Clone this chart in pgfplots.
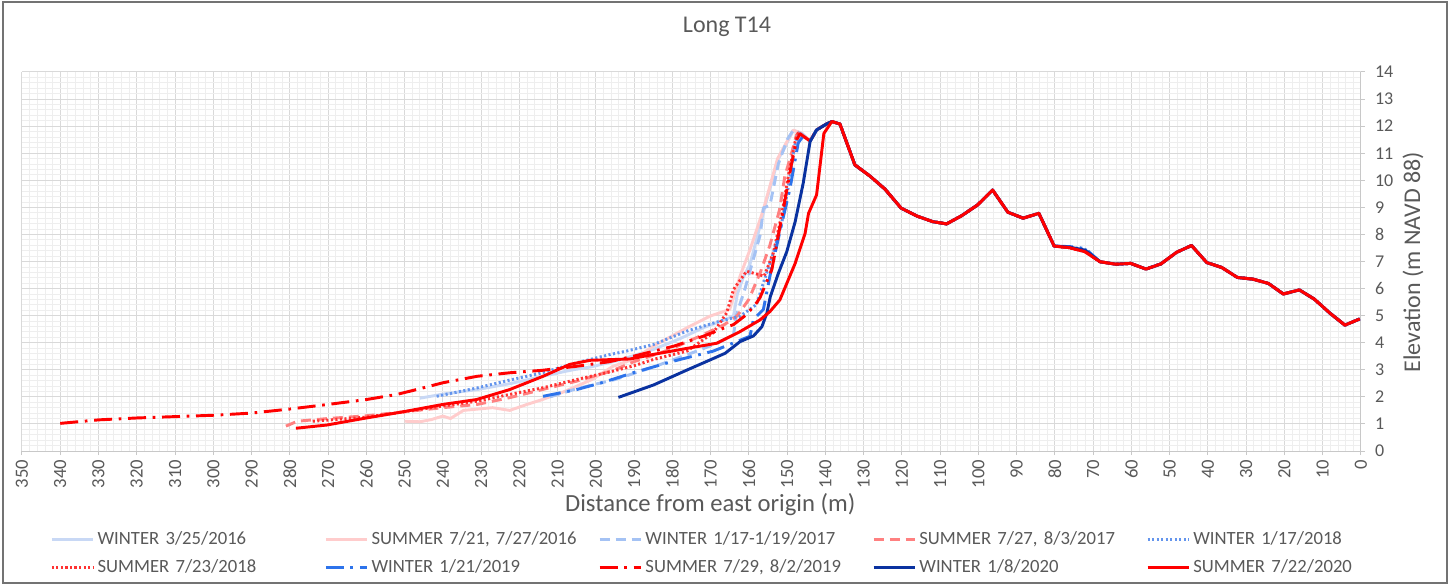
\documentclass[border=0pt]{standalone}
\usepackage{fontspec}
\setmainfont{Carlito}
\usepackage{pgfplots}
\pgfplotsset{compat=1.18}
\definecolor{txt}{RGB}{89,89,89}
\definecolor{majg}{RGB}{217,217,217}
\definecolor{ming}{RGB}{238,238,238}
\definecolor{axg}{RGB}{200,200,200}
\definecolor{ca}{RGB}{200,216,245}
\definecolor{cb}{RGB}{255,204,204}
\definecolor{cc}{RGB}{164,194,244}
\definecolor{cd}{RGB}{255,128,128}
\definecolor{ce}{RGB}{100,149,237}
\definecolor{cf}{RGB}{255,50,50}
\definecolor{cg}{RGB}{45,115,235}
\definecolor{ch}{RGB}{255,0,0}
\definecolor{ci}{RGB}{10,50,160}
\definecolor{cj}{RGB}{255,0,0}
\begin{document}
\begin{tikzpicture}
\useasboundingbox (-16.5pt,-100.5pt) rectangle (1073.25pt,338.25pt);
\draw[black!55, line width=0.8pt] (-14.25pt,-99pt) rectangle (1068.75pt,336.75pt);
\begin{axis}[
  at={(0pt,0pt)}, anchor=south west,
  scale only axis, width=1004.25pt, height=284.25pt,
  x dir=reverse, xmin=0, xmax=350, ymin=0, ymax=14,
  xtick={0,10,...,350}, ytick={0,1,...,14},
  minor x tick num=4, minor y tick num=4,
  grid=both,
  major grid style={draw=majg, line width=0.75pt},
  minor grid style={draw=ming, line width=0.6pt},
  axis x line*=bottom, axis y line*=right,
  axis line style={draw=axg, line width=0.75pt, -},
  tick align=outside, major tick length=3pt, minor tick length=0pt,
  tick style={draw=axg, line width=0.75pt},
  /pgf/number format/assume math mode=true,
  xticklabel style={rotate=90, anchor=east, font=\fontsize{14}{16}\selectfont, text=txt},
  yticklabel style={anchor=west, font=\fontsize{13.5}{15}\selectfont, text=txt, xshift=4pt},
  title={Long T14},
  title style={at={(axis description cs:0.5265,1.0976)}, anchor=center, font=\fontsize{18}{20}\selectfont, text=txt},
  xlabel={Distance from east origin (m)},
  xlabel style={at={(axis description cs:0.514,-0.1425)}, anchor=center, font=\fontsize{18.5}{20}\selectfont, text=txt},
  ylabel={Elevation (m NAVD 88)},
  ylabel style={at={(axis description cs:1.0389,0.4987)}, anchor=center, font=\fontsize{18}{20}\selectfont, text=txt},
  legend columns=5,
  legend style={at={(axis description cs:0.018,-0.2005)}, anchor=north west, draw=none, fill=none,
    font=\fontsize{14}{16}\selectfont, text=txt,
    nodes={inner sep=0pt, text width=170pt, align=left, text height=11pt, text depth=3pt},
    /tikz/every odd column/.append style={column sep=2.25pt},
    /tikz/every even column/.append style={column sep=0pt},
    row sep=7pt},
  legend image code/.code={\draw[#1] (0pt,0pt) -- (31pt,0pt);},
  every axis plot/.append style={line width=2.2pt, line join=round},
]
% WINTER 3/25/2016
\addplot[ca] coordinates {(246,1.95) (240,2.1) (231,2.27) (222,2.5) (214,2.76) (206,3.0) (201.5,3.1) (194,3.35) (185,3.75) (178,4.15) (172,4.55) (166,4.86) (164,5.0) (163,5.8) (161.5,6.4) (159.7,6.9) (157.1,8.3) (155.3,9.3) (152.3,10.8) (151,11.1) (148.4,11.85) (146.2,11.72) (144,11.45) (142.3,11.86) (139.7,12.08) (138.3,12.17) (136.2,12.08) (132.3,10.57) (128.3,10.15) (124.4,9.67) (120.2,8.97) (116.1,8.68) (111.9,8.47) (108.3,8.39) (104.4,8.69) (100.2,9.09) (96.3,9.64) (92.3,8.82) (88.3,8.6) (84.2,8.78) (80.2,7.57) (76.1,7.51) (72.1,7.36) (68.2,6.99) (64.1,6.9) (60.2,6.93) (56.2,6.72) (52.3,6.91) (48.2,7.34) (44.3,7.59) (40.3,6.96) (36.4,6.78) (32.3,6.41) (28.3,6.35) (24.2,6.19) (20.3,5.8) (16.1,5.95) (12.2,5.61) (8.1,5.09) (4.2,4.65) (0.3,4.88)};
\addlegendentry{WINTER 3/25/2016}
% SUMMER 2016
\addplot[cb] coordinates {(250,1.1) (246,1.08) (243,1.16) (240,1.29) (238,1.2) (234.6,1.5) (227,1.6) (222.5,1.5) (218,1.72) (214,1.9) (209,2.15) (201,2.64) (195.5,3.13) (190,3.4) (185,3.87) (176.2,4.55) (170.2,4.98) (165,5.23) (163.3,6.0) (162.3,6.46) (159.7,7.44) (156.2,8.92) (152.5,10.8) (148.4,11.85) (146.2,11.75) (144,11.45) (142.3,11.86) (139.7,12.08) (138.3,12.17) (136.2,12.08) (132.3,10.57) (128.3,10.15) (124.4,9.67) (120.2,8.97) (116.1,8.68) (111.9,8.47) (108.3,8.39) (104.4,8.69) (100.2,9.09) (96.3,9.64) (92.3,8.82) (88.3,8.6) (84.2,8.78) (80.2,7.57) (76.1,7.51) (72.1,7.36) (68.2,6.99) (64.1,6.9) (60.2,6.93) (56.2,6.72) (52.3,6.91) (48.2,7.34) (44.3,7.59) (40.3,6.96) (36.4,6.78) (32.3,6.41) (28.3,6.35) (24.2,6.19) (20.3,5.8) (16.1,5.95) (12.2,5.61) (8.1,5.09) (4.2,4.65) (0.3,4.88)};
\addlegendentry{SUMMER 7/21, 7/27/2016}
% WINTER 2017
\addplot[cc, dash pattern=on 7.5pt off 4.5pt] coordinates {(212,2.0) (205,2.3) (195,2.64) (185,3.1) (173.6,3.69) (168,4.0) (164,4.3) (163.3,5.0) (161,6.0) (159,7.0) (157,8.0) (156.2,8.98) (154.5,9.07) (152.3,10.6) (150,11.5) (148.4,11.85) (146.2,11.72) (144,11.45) (142.3,11.86) (139.7,12.08) (138.3,12.17) (136.2,12.08) (132.3,10.57) (128.3,10.15) (124.4,9.67) (120.2,8.97) (116.1,8.68) (111.9,8.47) (108.3,8.39) (104.4,8.69) (100.2,9.09) (96.3,9.64) (92.3,8.82) (88.3,8.6) (84.2,8.78) (80.2,7.57) (76.1,7.51) (72.1,7.36) (68.2,6.99) (64.1,6.9) (60.2,6.93) (56.2,6.72) (52.3,6.91) (48.2,7.34) (44.3,7.59) (40.3,6.96) (36.4,6.78) (32.3,6.41) (28.3,6.35) (24.2,6.19) (20.3,5.8) (16.1,5.95) (12.2,5.61) (8.1,5.09) (4.2,4.65) (0.3,4.88)};
\addlegendentry{WINTER 1/17-1/19/2017}
% SUMMER 2017
\addplot[cd, dash pattern=on 7.5pt off 4.5pt] coordinates {(281,0.92) (278,1.1) (270,1.2) (260,1.3) (250,1.45) (240,1.6) (231,1.72) (222.5,1.97) (214,2.27) (205,2.58) (196,2.95) (190,3.3) (180.6,3.75) (171.9,4.3) (166.4,4.67) (163,5.0) (160,5.6) (157,6.6) (154.5,7.6) (152,8.9) (150.6,10.15) (149.3,10.77) (147.5,11.7) (146.2,11.7) (144,11.45) (142.3,11.86) (139.7,12.08) (138.3,12.17) (136.2,12.08) (132.3,10.57) (128.3,10.15) (124.4,9.67) (120.2,8.97) (116.1,8.68) (111.9,8.47) (108.3,8.39) (104.4,8.69) (100.2,9.09) (96.3,9.64) (92.3,8.82) (88.3,8.6) (84.2,8.78) (80.2,7.57) (76.1,7.51) (72.1,7.36) (68.2,6.99) (64.1,6.9) (60.2,6.93) (56.2,6.72) (52.3,6.91) (48.2,7.34) (44.3,7.59) (40.3,6.96) (36.4,6.78) (32.3,6.41) (28.3,6.35) (24.2,6.19) (20.3,5.8) (16.1,5.95) (12.2,5.61) (8.1,5.09) (4.2,4.65) (0.3,4.88)};
\addlegendentry{SUMMER 7/27, 8/3/2017}
% WINTER 2018
\addplot[ce, dash pattern=on 1.6pt off 1.8pt] coordinates {(241.6,2.02) (231,2.33) (222.5,2.62) (214,2.89) (205,3.26) (196.4,3.56) (192,3.69) (185,3.93) (176.2,4.43) (167.5,4.8) (162.3,4.98) (158,5.41) (156.2,6.21) (153.6,7.32) (151.4,8.43) (149.5,9.9) (148,11.3) (147,11.7) (146,11.65) (144,11.45) (142.3,11.86) (139.7,12.08) (138.3,12.17) (136.2,12.08) (132.3,10.57) (128.3,10.15) (124.4,9.67) (120.2,8.97) (116.1,8.68) (111.9,8.47) (108.3,8.39) (104.4,8.69) (100.2,9.09) (96.3,9.64) (92.3,8.82) (88.3,8.6) (84.2,8.78) (80.2,7.57) (76.1,7.53) (72.1,7.45) (68.2,6.99) (64.1,6.9) (60.2,6.93) (56.2,6.72) (52.3,6.91) (48.2,7.34) (44.3,7.59) (40.3,6.96) (36.4,6.78) (32.3,6.41) (28.3,6.35) (24.2,6.19) (20.3,5.8) (16.1,5.95) (12.2,5.61) (8.1,5.09) (4.2,4.65) (0.3,4.88)};
\addlegendentry{WINTER 1/17/2018}
% SUMMER 2018
\addplot[cf, dash pattern=on 1.6pt off 1.8pt] coordinates {(274,1.1) (260,1.25) (250,1.45) (243,1.6) (231,1.84) (222.5,2.09) (214,2.33) (205,2.64) (196.4,2.92) (190,3.15) (185,3.38) (176.2,3.69) (169.3,4.37) (165.8,5.1) (164,5.97) (160.6,6.64) (156,6.46) (153.6,7.32) (151.4,8.74) (149.5,10.3) (147.8,11.5) (147.1,11.75) (146,11.65) (144,11.45) (142.3,11.86) (139.7,12.08) (138.3,12.17) (136.2,12.08) (132.3,10.57) (128.3,10.15) (124.4,9.67) (120.2,8.97) (116.1,8.68) (111.9,8.47) (108.3,8.39) (104.4,8.69) (100.2,9.09) (96.3,9.64) (92.3,8.82) (88.3,8.6) (84.2,8.78) (80.2,7.57) (76.1,7.51) (72.1,7.36) (68.2,6.99) (64.1,6.9) (60.2,6.93) (56.2,6.72) (52.3,6.91) (48.2,7.34) (44.3,7.59) (40.3,6.96) (36.4,6.78) (32.3,6.41) (28.3,6.35) (24.2,6.19) (20.3,5.8) (16.1,5.95) (12.2,5.61) (8.1,5.09) (4.2,4.65) (0.3,4.88)};
\addlegendentry{SUMMER 7/23/2018}
% WINTER 2019
\addplot[cg, dash pattern=on 13.5pt off 5pt on 2pt off 5pt] coordinates {(213.8,2.02) (205,2.27) (198,2.54) (190,2.9) (179.7,3.32) (169.3,3.69) (159.7,4.24) (158.8,4.86) (156.2,5.23) (154.5,6.46) (151.9,8.1) (149.3,9.66) (147.1,11.38) (146,11.6) (144,11.45) (142.3,11.86) (139.7,12.08) (138.3,12.17) (136.2,12.08) (132.3,10.57) (128.3,10.15) (124.4,9.67) (120.2,8.97) (116.1,8.68) (111.9,8.47) (108.3,8.39) (104.4,8.69) (100.2,9.09) (96.3,9.64) (92.3,8.82) (88.3,8.6) (84.2,8.78) (80.2,7.57) (76.1,7.55) (72.1,7.48) (68.2,6.99) (64.1,6.9) (60.2,6.93) (56.2,6.72) (52.3,6.91) (48.2,7.34) (44.3,7.59) (40.3,6.96) (36.4,6.78) (32.3,6.41) (28.3,6.35) (24.2,6.19) (20.3,5.8) (16.1,5.95) (12.2,5.61) (8.1,5.09) (4.2,4.65) (0.3,4.88)};
\addlegendentry{WINTER 1/21/2019}
% SUMMER 2019
\addplot[ch, dash pattern=on 13.5pt off 5pt on 2pt off 5pt] coordinates {(340,1.02) (330,1.15) (320,1.22) (310,1.27) (300,1.32) (290,1.4) (280,1.55) (270,1.72) (260,1.9) (252,2.09) (246,2.3) (240,2.52) (231,2.76) (222.5,2.89) (214,2.98) (205,3.13) (196.4,3.3) (190.2,3.5) (179.7,3.87) (171.9,4.24) (166.4,4.55) (164,4.67) (160.6,5.04) (158,5.47) (157.1,5.66) (154,6.7) (151,8.92) (149,10.5) (147.5,11.5) (146.6,11.72) (145.5,11.6) (144,11.45) (142.3,11.86) (139.7,12.08) (138.3,12.17) (136.2,12.08) (132.3,10.57) (128.3,10.15) (124.4,9.67) (120.2,8.97) (116.1,8.68) (111.9,8.47) (108.3,8.39) (104.4,8.69) (100.2,9.09) (96.3,9.64) (92.3,8.82) (88.3,8.6) (84.2,8.78) (80.2,7.57) (76.1,7.51) (72.1,7.36) (68.2,6.99) (64.1,6.9) (60.2,6.93) (56.2,6.72) (52.3,6.91) (48.2,7.34) (44.3,7.59) (40.3,6.96) (36.4,6.78) (32.3,6.41) (28.3,6.35) (24.2,6.19) (20.3,5.8) (16.1,5.95) (12.2,5.61) (8.1,5.09) (4.2,4.65) (0.3,4.88)};
\addlegendentry{SUMMER 7/29, 8/2/2019}
% WINTER 2020
\addplot[ci] coordinates {(194.1,1.98) (184.9,2.44) (176.2,2.99) (170.2,3.36) (166.2,3.61) (162.3,4.04) (158.8,4.25) (156.6,4.59) (155.3,5.09) (154.4,5.7) (152.3,6.56) (150.1,7.36) (147.9,8.47) (145.8,9.89) (144,11.43) (142.3,11.86) (139.7,12.08) (138.3,12.17) (136.2,12.08) (132.3,10.57) (128.3,10.15) (124.4,9.67) (120.2,8.97) (116.1,8.68) (111.9,8.47) (108.3,8.39) (104.4,8.69) (100.2,9.09) (96.3,9.64) (92.3,8.82) (88.3,8.6) (84.2,8.78) (80.2,7.57) (76.1,7.53) (72.1,7.42) (68.2,6.99) (64.1,6.9) (60.2,6.93) (56.2,6.72) (52.3,6.91) (48.2,7.34) (44.3,7.59) (40.3,6.96) (36.4,6.78) (32.3,6.41) (28.3,6.35) (24.2,6.19) (20.3,5.8) (16.1,5.95) (12.2,5.61) (8.1,5.09) (4.2,4.65) (0.3,4.88)};
\addlegendentry{WINTER 1/8/2020}
% SUMMER 2020
\addplot[cj] coordinates {(278.4,0.84) (270.3,0.96) (260.8,1.2) (250.3,1.45) (240,1.72) (231.2,1.9) (222.5,2.27) (213.8,2.76) (206.8,3.2) (201.5,3.35) (191,3.4) (184.9,3.57) (176.2,3.79) (168.4,3.98) (162.3,4.41) (157.1,4.84) (154.5,5.15) (151.9,5.58) (147.9,6.93) (145.3,8.04) (144.4,8.78) (142.3,9.46) (140.4,11.73) (138.3,12.17) (136.2,12.08) (132.3,10.57) (128.3,10.15) (124.4,9.67) (120.2,8.97) (116.1,8.68) (111.9,8.47) (108.3,8.39) (104.4,8.69) (100.2,9.09) (96.3,9.64) (92.3,8.82) (88.3,8.6) (84.2,8.78) (80.2,7.57) (76.1,7.51) (72.1,7.36) (68.2,6.99) (64.1,6.9) (60.2,6.93) (56.2,6.72) (52.3,6.91) (48.2,7.34) (44.3,7.59) (40.3,6.96) (36.4,6.78) (32.3,6.41) (28.3,6.35) (24.2,6.19) (20.3,5.8) (16.1,5.95) (12.2,5.61) (8.1,5.09) (4.2,4.65) (0.3,4.88)};
\addlegendentry{SUMMER 7/22/2020}
\end{axis}
\end{tikzpicture}
\end{document}
